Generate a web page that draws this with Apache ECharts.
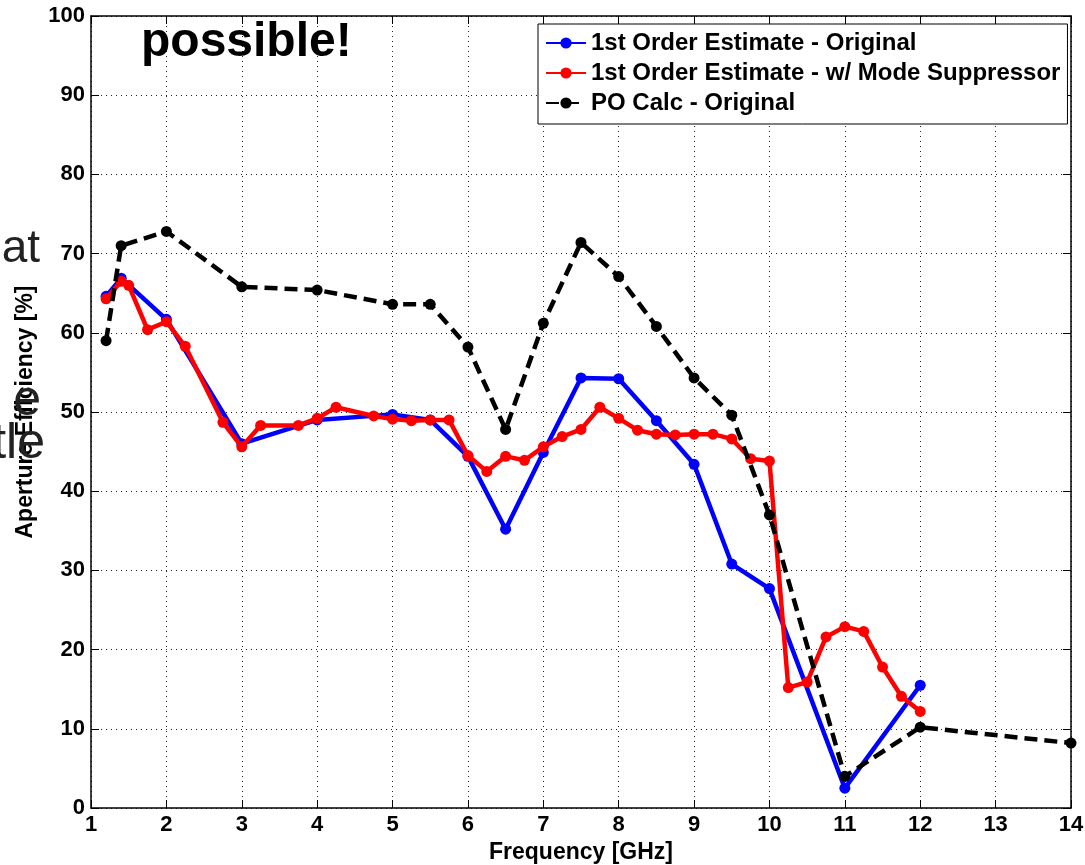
<!DOCTYPE html>
<html>
<head>
    <meta charset="utf-8">
    <title>Aperture Efficiency</title>
    <style>
        *{
            margin: 0px;
            padding: 0px;
            box-sizing: border-box;
        }
        html, body, #chart{
            width: 1085px;
            height: 865px;
            overflow: hidden;
            background: #fff;
        }
    </style>
</head>
<body>
    <div id="chart"></div>
    <script src="https://cdn.jsdelivr.net/npm/echarts@6/dist/echarts.min.js"></script>
    <script>
        // frequency points [GHz] and efficiency [%]
        var blueFreq = [1.2, 1.4, 2, 3, 4, 5, 5.5, 6, 6.5, 7, 7.5, 8, 8.5, 9, 9.5, 10, 11, 12];
        var blueEff  = [64.6, 66.9, 61.7, 46.0, 49.0, 49.7, 49.0, 44.4, 35.2, 44.9, 54.3, 54.2, 48.9, 43.4, 30.8, 27.7, 2.5, 15.5];

        var redFreq = [1.2, 1.4, 1.5, 1.75, 2, 2.25, 2.75, 3, 3.25, 3.75, 4, 4.25, 4.75, 5, 5.25, 5.5, 5.75,
                       6, 6.25, 6.5, 6.75, 7, 7.25, 7.5, 7.75, 8, 8.25, 8.5, 8.75, 9, 9.25, 9.5, 9.75,
                       10, 10.25, 10.5, 10.75, 11, 11.25, 11.5, 11.75, 12];
        var redEff  = [64.3, 66.5, 66.0, 60.4, 61.4, 58.3, 48.7, 45.6, 48.3, 48.3, 49.2, 50.6, 49.5, 49.1, 48.9, 49.0, 49.0,
                       44.5, 42.5, 44.4, 43.9, 45.6, 46.9, 47.8, 50.6, 49.2, 47.7, 47.2, 47.1, 47.2, 47.2, 46.6, 44.1,
                       43.8, 15.2, 15.9, 21.6, 22.9, 22.3, 17.8, 14.1, 12.2];

        var poFreq = [1.2, 1.4, 2, 3, 4, 5, 5.5, 6, 6.5, 7, 7.5, 8, 8.5, 9, 9.5, 10, 11, 12, 14];
        var poEff  = [59.0, 71.0, 72.8, 65.8, 65.4, 63.6, 63.6, 58.2, 47.8, 61.2, 71.4, 67.1, 60.8, 54.3, 49.6, 37.0, 4.0, 10.2, 8.2];

        var seriesNames = ['1st Order Estimate - Original', '1st Order Estimate - w/ Mode Suppressor', 'PO Calc - Original'];

        function pairs(xs, ys) {
            return xs.map(function (x, i) { return [x, ys[i]]; });
        }

        var font = '"Liberation Sans", Arial, sans-serif';
        var myChart = echarts.init(document.getElementById('chart'), null, {renderer: 'canvas'});

        var boxAxis = {
            axisLine: {show: true, onZero: false, lineStyle: {color: '#000', width: 1.5}},
            axisTick: {show: true, inside: true, length: 8, lineStyle: {color: '#000', width: 1}},
            axisLabel: {show: false},
            splitLine: {show: false}
        };

        var option = {
            animation: false,
            backgroundColor: '#fff',
            grid: {left: 91, right: 14, top: 16, bottom: 57, outerBoundsMode: 'none'},
            legend: {
                left: 538,
                top: 24,
                orient: 'vertical',
                itemWidth: 40,
                itemHeight: 14,
                itemGap: 6,
                padding: [7, 7, 9, 7],
                backgroundColor: '#fff',
                borderColor: '#000',
                borderWidth: 1,
                borderRadius: 0,
                textStyle: {fontFamily: font, fontWeight: 'bold', fontSize: 24, lineHeight: 24, color: '#000'},
                data: seriesNames
            },
            xAxis: [{
                type: 'value',
                min: 1, max: 14, interval: 1,
                name: 'Frequency [GHz]',
                nameLocation: 'middle',
                nameGap: 30,
                nameTextStyle: {fontFamily: font, fontWeight: 'bold', fontSize: 23, color: '#000'},
                axisLine: {show: true, onZero: false, lineStyle: {color: '#000', width: 1.5}},
                axisTick: {show: true, inside: true, length: 8, lineStyle: {color: '#000', width: 1}},
                axisLabel: {fontFamily: font, fontWeight: 'bold', fontSize: 22, color: '#000', margin: 6},
                splitLine: {show: true, lineStyle: {color: '#222', width: 1, type: [1, 4]}}
            }, Object.assign({
                type: 'value', position: 'top', min: 1, max: 14, interval: 1
            }, boxAxis)],
            yAxis: [{
                type: 'value',
                min: 0, max: 100, interval: 10,
                name: 'Aperture Efficiency [%]',
                nameLocation: 'middle',
                nameGap: 48,
                nameTextStyle: {fontFamily: font, fontWeight: 'bold', fontSize: 23, color: '#000'},
                axisLine: {show: true, onZero: false, lineStyle: {color: '#000', width: 1.5}},
                axisTick: {show: true, inside: true, length: 8, lineStyle: {color: '#000', width: 1}},
                axisLabel: {fontFamily: font, fontWeight: 'bold', fontSize: 22, color: '#000', margin: 6},
                splitLine: {show: true, lineStyle: {color: '#222', width: 1, type: [1, 4]}}
            }, Object.assign({
                type: 'value', position: 'right', min: 0, max: 100, interval: 10
            }, boxAxis)],
            graphic: [
                // leftovers of the slide behind the figure
                {type: 'text', left: 141, top: 19, z: 100,
                 style: {text: 'possible!', font: 'bold 48px ' + font, fill: '#000'}},
                {type: 'text', x: 40, y: 226, z: 100,
                 style: {text: 'at', font: '46px ' + font, fill: '#222', align: 'right'}},
                {type: 'text', x: 41, y: 376, z: 100,
                 style: {text: 'e', font: '50px ' + font, fill: '#222', align: 'right'}},
                {type: 'text', x: 45, y: 419, z: 100,
                 style: {text: 'tle', font: '50px ' + font, fill: '#222', align: 'right'}}
            ],
            series: [{
                name: seriesNames[0],
                type: 'line',
                data: pairs(blueFreq, blueEff),
                symbol: 'circle',
                symbolSize: 11,
                color: '#0000ff',
                lineStyle: {width: 4.5, color: '#0000ff'},
                z: 2
            }, {
                name: seriesNames[1],
                type: 'line',
                data: pairs(redFreq, redEff),
                symbol: 'circle',
                symbolSize: 11,
                color: '#ff0000',
                lineStyle: {width: 4.5, color: '#ff0000'},
                z: 3
            }, {
                name: seriesNames[2],
                type: 'line',
                data: pairs(poFreq, poEff),
                symbol: 'circle',
                symbolSize: 11,
                color: '#000',
                lineStyle: {width: 4.5, color: '#000', type: [13, 7]},
                z: 4
            }]
        };

        myChart.setOption(option);
    </script>
</body>
</html>
